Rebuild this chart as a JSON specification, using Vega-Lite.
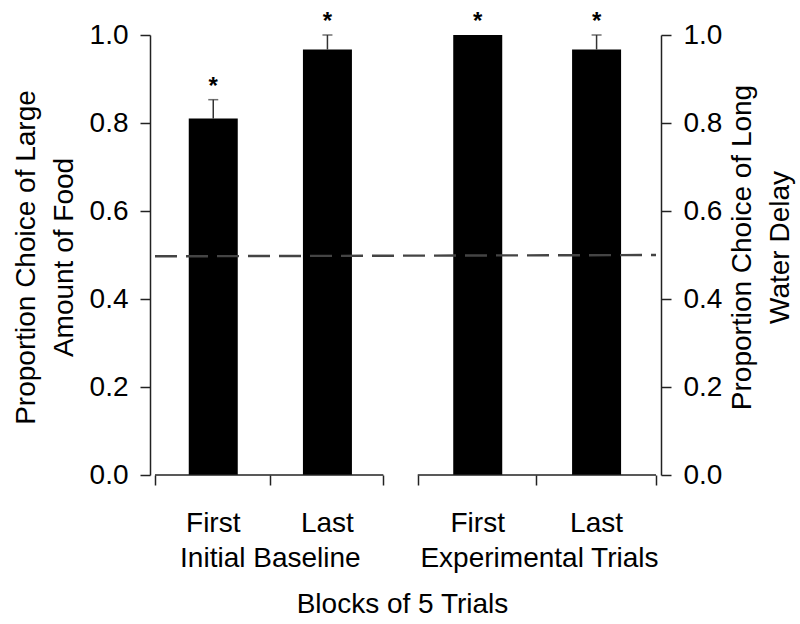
{
  "$schema": "https://vega.github.io/schema/vega-lite/v6.json",
  "width": 511,
  "height": 440,
  "autosize": "none",
  "padding": {"left": 150, "top": 35, "right": 139, "bottom": 149},
  "background": "white",
  "config": {
    "view": {"stroke": null},
    "font": "Liberation Sans",
    "axis": {"grid": false, "labelFont": "Liberation Sans", "titleFont": "Liberation Sans", "labelColor": "black", "titleColor": "black", "titleFontWeight": "normal", "domainColor": "#222", "tickColor": "#222", "domainWidth": 1.5, "tickWidth": 1.5}
  },
  "datasets": {
    "bars": [
      {"block": "First", "group": "Initial Baseline", "pos": 0.5, "value": 0.81, "upper": 0.853},
      {"block": "Last", "group": "Initial Baseline", "pos": 1.48, "value": 0.967, "upper": 1.0},
      {"block": "First", "group": "Experimental Trials", "pos": 2.77, "value": 1.0, "upper": null},
      {"block": "Last", "group": "Experimental Trials", "pos": 3.79, "value": 0.967, "upper": 1.0}
    ],
    "segments": [
      {"start": 0, "end": 1.96},
      {"start": 2.255, "end": 4.3}
    ],
    "groups": [
      {"group": "Initial Baseline", "center": 0.99},
      {"group": "Experimental Trials", "center": 3.3}
    ],
    "chance": [
      {"pos": 0, "p": 0.497},
      {"pos": 4.3, "p": 0.5}
    ]
  },
  "layer": [
    {
      "layer": [
        {
          "data": {"name": "bars"},
          "mark": {"type": "bar", "color": "black", "size": 49},
          "encoding": {
            "x": {"field": "pos", "type": "quantitative", "scale": {"domain": [0, 4.3], "nice": false, "zero": false},
              "axis": {"domain": false, "labels": false, "values": [0, 0.985, 1.96, 2.255, 3.27, 4.3], "tickSize": 10, "title": "Blocks of 5 Trials", "titleFontSize": 28, "titleBaseline": "alphabetic", "titleY": 137, "titleX": 252}},
            "y": {"field": "value", "type": "quantitative", "scale": {"domain": [0, 1], "nice": false},
              "axis": {"orient": "left", "values": [0, 0.2, 0.4, 0.6, 0.8, 1.0], "format": ".1f", "labelFontSize": 28, "tickSize": 10, "labelPadding": 12,
                "title": ["Proportion Choice of  Large", "Amount of Food"], "titleFontSize": 28, "titleAngle": -90, "titleBaseline": "middle", "titleLineHeight": 38, "titleX": -124, "titleY": 222}}
          }
        },
        {
          "data": {"name": "bars"},
          "transform": [{"filter": "datum.upper != null"}],
          "mark": {"type": "rule", "color": "#333", "strokeWidth": 1.5},
          "encoding": {
            "x": {"field": "pos", "type": "quantitative"},
            "y": {"field": "value", "type": "quantitative"},
            "y2": {"field": "upper"}
          }
        },
        {
          "data": {"name": "bars"},
          "transform": [{"filter": "datum.upper != null"}],
          "mark": {"type": "tick", "orient": "horizontal", "color": "#333", "size": 10, "thickness": 1.5},
          "encoding": {
            "x": {"field": "pos", "type": "quantitative"},
            "y": {"field": "upper", "type": "quantitative"}
          }
        },
        {
          "data": {"name": "bars"},
          "transform": [{"calculate": "datum.upper != null ? datum.upper : datum.value", "as": "top"}],
          "mark": {"type": "text", "text": "*", "fontSize": 24, "fontWeight": "bold", "baseline": "alphabetic", "dy": -6, "color": "black"},
          "encoding": {
            "x": {"field": "pos", "type": "quantitative"},
            "y": {"field": "top", "type": "quantitative"}
          }
        },
        {
          "data": {"name": "bars"},
          "mark": {"type": "text", "fontSize": 28, "baseline": "alphabetic", "dy": 57, "color": "black"},
          "encoding": {
            "x": {"field": "pos", "type": "quantitative"},
            "y": {"datum": 0, "type": "quantitative"},
            "text": {"field": "block"}
          }
        },
        {
          "data": {"name": "groups"},
          "mark": {"type": "text", "fontSize": 28, "baseline": "alphabetic", "dy": 92, "color": "black"},
          "encoding": {
            "x": {"field": "center", "type": "quantitative"},
            "y": {"datum": 0, "type": "quantitative"},
            "text": {"field": "group"}
          }
        },
        {
          "data": {"name": "segments"},
          "mark": {"type": "rule", "color": "#222", "strokeWidth": 1.5},
          "encoding": {
            "x": {"field": "start", "type": "quantitative"},
            "x2": {"field": "end"},
            "y": {"datum": 0, "type": "quantitative"}
          }
        },
        {
          "data": {"name": "chance"},
          "mark": {"type": "line", "color": "#444", "strokeWidth": 2.4, "strokeDash": [22, 9]},
          "encoding": {
            "x": {"field": "pos", "type": "quantitative"},
            "y": {"field": "p", "type": "quantitative"}
          }
        }
      ]
    },
    {
      "data": {"name": "bars"},
      "mark": {"type": "point", "opacity": 0},
      "encoding": {
        "x": {"field": "pos", "type": "quantitative"},
        "y": {"field": "value", "type": "quantitative", "scale": {"domain": [0, 1], "nice": false},
          "axis": {"orient": "right", "values": [0, 0.2, 0.4, 0.6, 0.8, 1.0], "format": ".1f", "labelFontSize": 28, "tickSize": 10, "labelPadding": 12,
            "title": ["Proportion Choice of Long", "Water Delay"], "titleFontSize": 28, "titleAngle": -90, "titleBaseline": "middle", "titleLineHeight": 38, "titleX": 81, "titleY": 212}}
      }
    }
  ],
  "resolve": {"scale": {"y": "independent"}}
}
